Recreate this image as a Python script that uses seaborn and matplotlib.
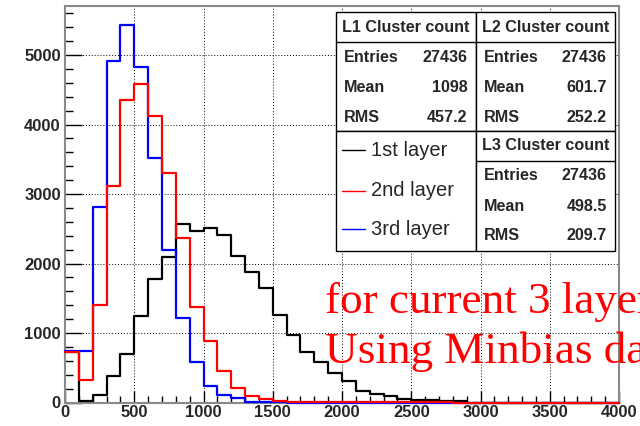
import numpy as np
import pandas as pd
import matplotlib
matplotlib.use("Agg")
import matplotlib.pyplot as plt
import seaborn as sns
from matplotlib.lines import Line2D
from matplotlib.patches import Rectangle
from matplotlib.ticker import MultipleLocator

# ---------------- data ----------------
bin_edges = [0, 100, 200, 300, 400, 500, 600, 700, 800, 900, 1000,
             1100, 1200, 1300, 1400, 1500, 1600, 1700, 1800, 1900, 2000,
             2100, 2200, 2300, 2400, 2500, 2600, 2700, 2800, 2900, 3000,
             3100, 3200, 3300, 3400, 3500, 3600, 3700, 3800, 3900, 4000]

layer1_counts = [720, 18, 108, 380, 692, 1242, 1784, 2100, 2564, 2463,
                 2506, 2405, 2108, 1882, 1652, 1255, 972, 723, 585, 419,
                 310, 172, 122, 90, 55, 38, 30, 22, 17, 0,
                 0, 0, 0, 0, 0, 0, 0, 0, 0, 0]
layer2_counts = [732, 330, 1400, 3110, 4355, 4590, 4120, 3300, 2370, 1380,
                 888, 455, 210, 88, 45, 22, 12, 8, 6, 5,
                 4, 3, 3, 2, 2, 1, 1, 1, 0, 0,
                 0, 0, 0, 0, 0, 0, 0, 0, 0, 0]
layer3_counts = [746, 746, 2820, 4915, 5435, 4830, 3525, 2200, 1215, 588,
                 240, 108, 60, 12, 4, 2, 0, 0, 0, 0,
                 0, 0, 0, 0, 0, 0, 0, 0, 0, 0,
                 0, 0, 0, 0, 0, 0, 0, 0, 0, 0]

layer_names = ["1st layer", "2nd layer", "3rd layer"]
layer_colors = ["black", "red", "blue"]

stats_titles = ["L1 Cluster count", "L2 Cluster count", "L3 Cluster count"]
stats_entries = ["27436", "27436", "27436"]
stats_means = ["1098", "601.7", "498.5"]
stats_rms = ["457.2", "252.2", "209.7"]

note_lines = ["for current 3 layers", "Using Minbias data"]

x_ticks = [0, 500, 1000, 1500, 2000, 2500, 3000, 3500, 4000]
y_ticks = [0, 1000, 2000, 3000, 4000, 5000]

# ---------------- build table ----------------
edges = np.array(bin_edges, dtype=float)
centers = (edges[:-1] + edges[1:]) / 2
frames = []
for name, counts in zip(layer_names, [layer1_counts, layer2_counts, layer3_counts]):
    frames.append(pd.DataFrame({"x": centers, "w": np.array(counts, dtype=float),
                                "layer": name}))
df = pd.concat(frames, ignore_index=True)

# ---------------- figure ----------------
sns.set_style("white")
W, H = 640, 426
fig = plt.figure(figsize=(6.4, 4.26), dpi=100)
ax = fig.add_axes([65 / W, 1 - 402.5 / H, (619 - 65) / W, (402.5 - 5.7) / H])

draw_order = ["1st layer", "3rd layer", "2nd layer"]
cmap = dict(zip(layer_names, layer_colors))
for name in draw_order:
    sub = df[df["layer"] == name].reset_index(drop=True)
    sns.histplot(x=sub["x"], weights=sub["w"], bins=list(bin_edges), element="step",
                 fill=False, color=cmap[name], linewidth=1.6, ax=ax,
                 clip_on=False, zorder=3)

ax.set_xlim(0, 4000)
ax.set_ylim(0, 5710)
ax.set_xlabel("")
ax.set_ylabel("")

ax.xaxis.set_major_locator(MultipleLocator(500))
ax.xaxis.set_minor_locator(MultipleLocator(100))
ax.yaxis.set_major_locator(MultipleLocator(1000))
ax.yaxis.set_minor_locator(MultipleLocator(200))
ax.set_xticks(x_ticks)
ax.set_xticklabels([str(v) for v in x_ticks])
ax.set_yticks(y_ticks)
ax.set_yticklabels([str(v) for v in y_ticks])

ax.tick_params(axis="y", which="major", direction="in", length=12.2, width=1.0,
               color="black", pad=3, left=True, right=False)
ax.tick_params(axis="y", which="minor", direction="in", length=6.1, width=1.0,
               color="black", left=True, right=False)
ax.tick_params(axis="x", which="major", direction="in", length=9.0, width=1.0,
               color="black", pad=2, bottom=True, top=False)
ax.tick_params(axis="x", which="minor", direction="in", length=4.7, width=1.0,
               color="black", bottom=True, top=False)
for lab in ax.get_xticklabels() + ax.get_yticklabels():
    lab.set_fontfamily("Liberation Sans")
    lab.set_fontweight("bold")
    lab.set_fontsize(12)

ax.grid(True, which="major", linestyle=(0, (1, 2)), color="black", linewidth=0.7)
ax.set_axisbelow(True)
for s in ax.spines.values():
    s.set_color("#8a8a8a")
    s.set_linewidth(1.5)

# ---------------- stats boxes and legend (pixel layout) ----------------
def fx(x):
    return x / W

def fy(y):
    return 1 - y / H

def box(x0, y0, x1, y1):
    fig.add_artist(Rectangle((fx(x0), fy(y1)), fx(x1) - fx(x0), fy(y0) - fy(y1),
                             transform=fig.transFigure, facecolor="white",
                             edgecolor="black", linewidth=1.0, zorder=5))

def hline(x0, x1, y):
    fig.add_artist(Line2D([fx(x0), fx(x1)], [fy(y), fy(y)], transform=fig.transFigure,
                          color="black", linewidth=1.0, zorder=6))

tkw = dict(fontfamily="Liberation Sans", fontweight="bold", fontsize=11.6,
           va="center", zorder=7)

L, M, R = 336, 475.7, 615
box(L, 12.3, M, 131.2)
box(M, 12.3, R, 131.2)
box(L, 131.2, M, 250.7)
box(M, 131.2, R, 250.7)
hline(L, R, 41.7)
hline(M, R, 161)

cols = [(L, M), (M, R)]
for i in range(2):
    a, b = cols[i]
    fig.text(fx((a + b) / 2), fy(27.3), stats_titles[i], ha="center", **tkw)
    for lab, val, y in [("Entries", stats_entries[i], 57.3),
                        ("Mean", stats_means[i], 87.7),
                        ("RMS", stats_rms[i], 117.3)]:
        fig.text(fx(a + 8), fy(y), lab, ha="left", **tkw)
        fig.text(fx(b - 8.2), fy(y), val, ha="right", **tkw)

fig.text(fx((M + R) / 2), fy(145.9), stats_titles[2], ha="center", **tkw)
for lab, val, y in [("Entries", stats_entries[2], 175.7),
                    ("Mean", stats_means[2], 206.7),
                    ("RMS", stats_rms[2], 236.0)]:
    fig.text(fx(M + 8), fy(y), lab, ha="left", **tkw)
    fig.text(fx(R - 8.2), fy(y), val, ha="right", **tkw)

for name, col, y in zip(layer_names, layer_colors, [150.3, 190.7, 229.5]):
    fig.add_artist(Line2D([fx(341.7), fx(365)], [fy(y), fy(y)], transform=fig.transFigure,
                          color=col, linewidth=1.0, zorder=7))
    fig.text(fx(370.7), fy(y), name, ha="left", va="center",
             fontfamily="Liberation Sans", fontsize=14.5, zorder=7)

# ---------------- red annotation (runs past the right edge, as in the reference) ----------------
for line, yb in zip(note_lines, [313.3, 363.3]):
    fig.text(fx(325), fy(yb), line, ha="left", va="baseline", color="red",
             fontfamily="Liberation Serif", fontsize=32.5, zorder=8)

fig.savefig("out.png", dpi=100)
